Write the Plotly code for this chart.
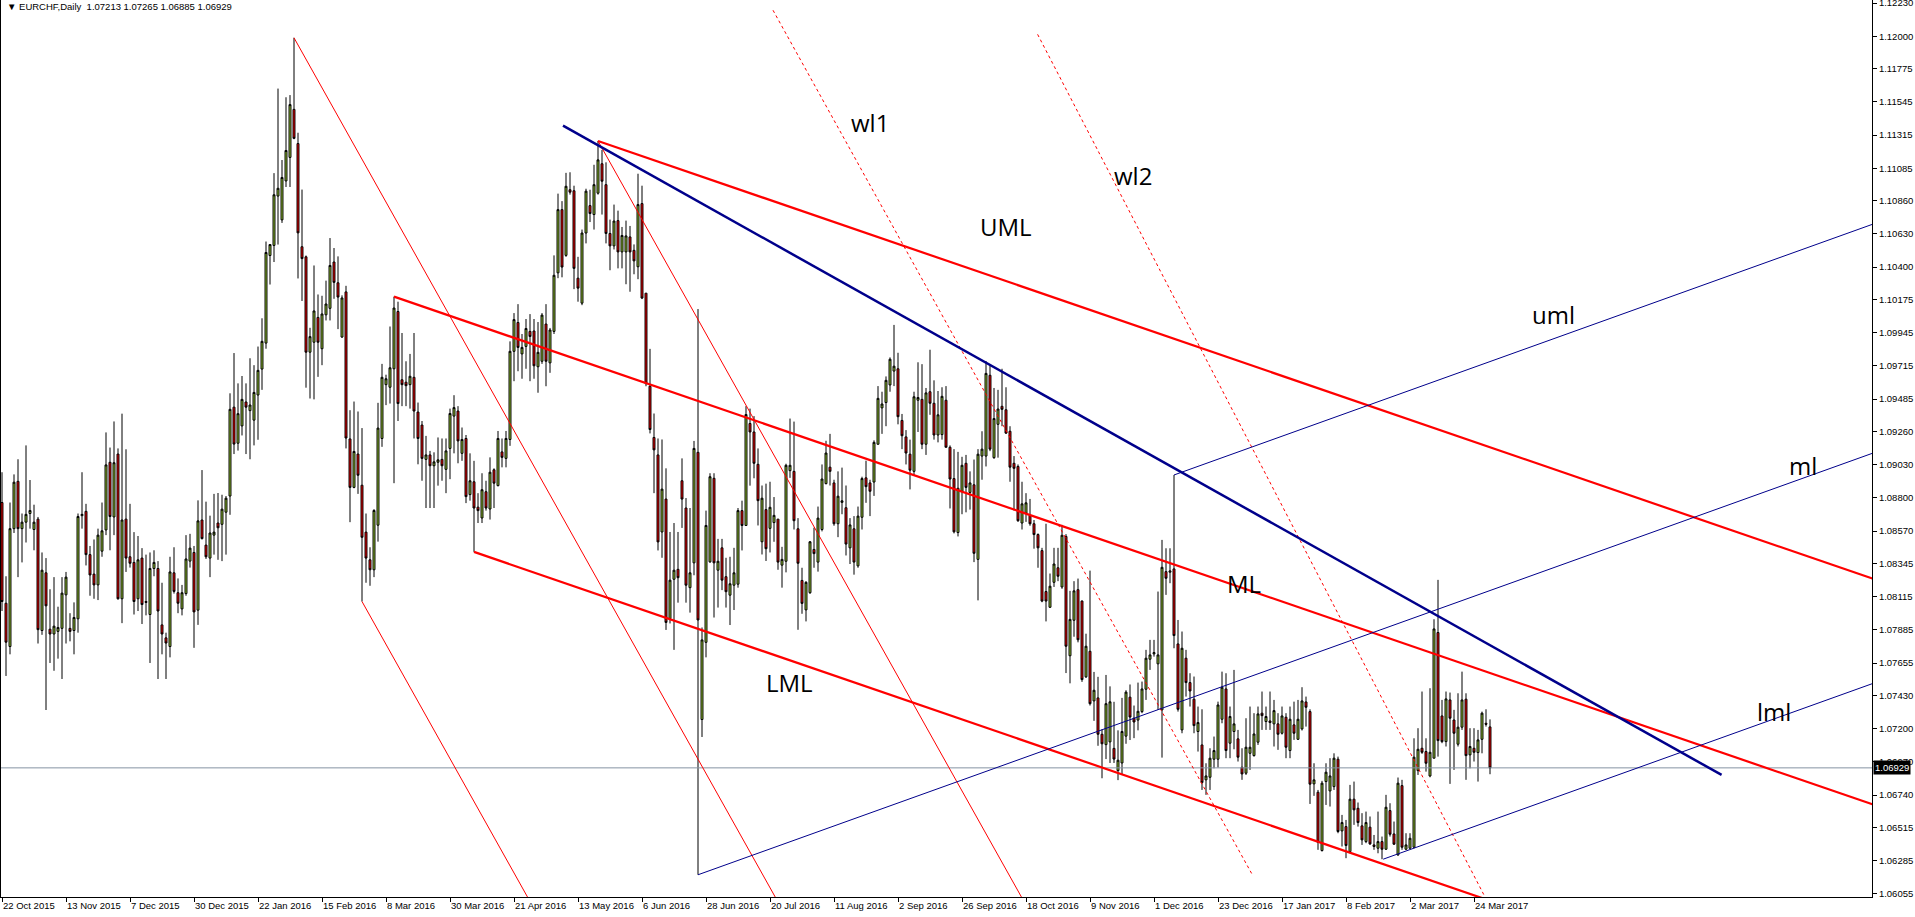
import plotly.graph_objects as go

# ---------------- data ----------------
BARS = list(range(373))

OPEN = [
1.08768,1.08070,1.07770,1.08587,1.08915,1.08587,1.08632,1.08692,1.08581,1.08653,
1.07881,1.08281,1.07890,1.07857,1.07875,1.07896,1.08128,1.07896,1.07881,1.07962,
1.08677,1.08707,1.08407,1.08272,1.08197,1.08431,1.08578,1.09047,1.08668,1.09104,
1.08101,1.08653,1.08392,1.08353,1.08101,1.08383,1.08082,1.07992,1.08311,1.08311,
1.07920,1.07830,1.07770,1.08281,1.08143,1.08031,1.08137,1.08362,1.08422,1.08022,
1.08647,1.08473,1.08383,1.08542,1.08626,1.08617,1.08701,1.08813,1.09429,1.09179,
1.09299,1.09465,1.09405,1.09339,1.09513,1.09693,1.09873,1.10480,1.10550,1.10892,
1.10727,1.10997,1.11160,1.11493,1.11256,1.10541,1.10471,1.09810,1.09879,1.10051,
1.09834,1.10069,1.10114,1.10435,1.10291,1.09915,1.10228,1.09209,1.08873,1.09104,
1.08888,1.08563,1.08371,1.08302,1.08611,1.09212,1.09585,1.09567,1.09695,1.10092,
1.09619,1.09602,1.09585,1.09636,1.09395,1.09305,1.09067,1.09098,1.09023,1.09047,
1.09067,1.08998,1.09143,1.09367,1.09402,1.09109,1.09212,1.08823,1.08912,1.08736,
1.08661,1.08843,1.08723,1.08995,1.08885,1.09119,1.09074,1.09205,1.09816,1.10016,
1.09798,1.09850,1.09954,1.09957,1.09709,1.09747,1.10005,1.09736,1.09954,1.10360,
1.10798,1.10481,1.10936,1.10929,1.10323,1.10150,1.10636,1.10826,1.10764,1.10912,
1.11116,1.10971,1.10633,1.10547,1.10722,1.10505,1.10505,1.10609,1.10516,1.10402,
1.10840,1.10219,1.09574,1.09219,1.09098,1.08564,1.08792,1.07964,1.08236,1.08305,
1.08919,1.08730,1.08178,1.08350,1.09116,1.07264,1.07799,1.08357,1.08936,1.08299,
1.08454,1.08254,1.08126,1.08195,1.08202,1.08712,1.08609,1.09316,1.09257,1.09033,
1.08496,1.08719,1.08589,1.08629,1.08653,1.08334,1.08361,1.08989,1.08984,1.08586,
1.08228,1.08024,1.08143,1.08443,1.08355,1.08581,1.08899,1.09013,1.08904,1.08621,
1.08769,1.08732,1.08454,1.08586,1.08329,1.08666,1.08939,1.08904,1.08910,1.09172,
1.09424,1.09461,1.09583,1.09679,1.09695,1.09337,1.09223,1.09103,1.08984,1.09477,
1.09483,1.09172,1.09536,1.09456,1.09236,1.09239,1.09477,1.09151,1.08934,1.08560,
1.08846,1.09040,1.08838,1.08891,1.08374,1.09090,1.09090,1.09650,1.09079,1.09310,
1.09435,1.09411,1.09262,1.09040,1.09018,1.08626,1.08695,1.08679,1.08621,1.08546,
1.08435,1.08151,1.08042,1.08215,1.08316,1.08183,1.08533,1.07706,1.07952,1.08164,
1.08085,1.07560,1.07737,1.07393,1.07414,1.07162,1.07090,1.07109,1.07064,1.06910,
1.06963,1.07149,1.07419,1.07273,1.07260,1.07319,1.07474,1.07682,1.07719,1.07650,
1.07331,1.08289,1.08285,1.08308,1.07788,1.07192,1.07689,1.07520,1.07405,1.07181,
1.07088,1.06846,1.06864,1.06989,1.06989,1.07266,1.07476,1.07100,1.07181,1.07130,
1.06933,1.06892,1.07030,1.07014,1.07107,1.07308,1.07250,1.07254,1.07234,1.07234,
1.07169,1.07280,1.07049,1.07227,1.07127,1.07199,1.07386,1.07319,1.06818,1.06760,
1.06356,1.06834,1.06769,1.06799,1.06989,1.06492,1.06522,1.06349,1.06712,1.06649,
1.06527,1.06418,1.06518,1.06395,1.06372,1.06418,1.06365,1.06633,1.06471,1.06326,
1.06806,1.06365,1.06372,1.06379,1.06910,1.07065,1.07042,1.06873,1.06996,1.07867,
1.07289,1.07111,1.07400,1.07261,1.07093,1.07211,1.07405,1.07019,1.07065,1.07035,
1.07127,1.07238,1.07213]

HIGH = [
1.08978,1.08257,1.08768,1.08963,1.09068,1.08692,1.09164,1.08924,1.08753,1.08668,
1.08422,1.08383,1.08167,1.08251,1.08046,1.08251,1.08287,1.08001,1.08076,1.08692,
1.08978,1.08759,1.08467,1.08512,1.08587,1.08768,1.09254,1.09149,1.09330,1.09143,
1.09384,1.09137,1.08759,1.08563,1.08536,1.08452,1.08407,1.08422,1.08437,1.08362,
1.08212,1.07866,1.08392,1.08458,1.08242,1.08197,1.08542,1.08551,1.08467,1.08783,
1.08993,1.08774,1.08677,1.08828,1.08834,1.08822,1.08813,1.09525,1.09804,1.09594,
1.09645,1.09594,1.09768,1.09720,1.09849,1.10045,1.10577,1.10556,1.11051,1.11637,
1.11142,1.11577,1.11592,1.11989,1.11331,1.10937,1.10480,1.09979,1.10411,1.10210,
1.10201,1.10306,1.10601,1.10532,1.10474,1.10204,1.10270,1.09408,1.09468,1.09399,
1.09284,1.08692,1.08458,1.08722,1.09459,1.09729,1.09654,1.09988,1.10195,1.10160,
1.09943,1.09747,1.09798,1.09943,1.09461,1.09333,1.09230,1.09126,1.09116,1.09219,
1.09212,1.09212,1.09419,1.09512,1.09436,1.09288,1.09236,1.09109,1.09057,1.08833,
1.08971,1.08919,1.09081,1.09005,1.09264,1.09212,1.09264,1.09885,1.10081,1.10143,
1.09936,1.10040,1.10074,1.10040,1.10019,1.10081,1.10143,1.09978,1.10481,1.10909,
1.10857,1.11053,1.11057,1.10964,1.10471,1.10660,1.10943,1.10936,1.11109,1.11274,
1.11212,1.11126,1.10729,1.10833,1.10791,1.10678,1.10722,1.10685,1.10557,1.11047,
1.10964,1.10219,1.09833,1.09385,1.09212,1.09205,1.09005,1.08564,1.08626,1.08564,
1.09074,1.08799,1.08730,1.09195,1.10109,1.07902,1.08712,1.08971,1.08971,1.08516,
1.08516,1.08385,1.08392,1.08454,1.08730,1.08781,1.09436,1.09419,1.09367,1.09143,
1.08886,1.08899,1.08912,1.08806,1.08653,1.08461,1.09037,1.09350,1.09329,1.08660,
1.08316,1.08223,1.08501,1.08594,1.08740,1.09032,1.09196,1.09244,1.08926,1.08984,
1.09010,1.08886,1.08660,1.08674,1.08740,1.08947,1.09058,1.08926,1.09199,1.09575,
1.09536,1.09642,1.09774,1.09999,1.09806,1.09382,1.09270,1.09204,1.09536,1.09740,
1.09727,1.09562,1.09827,1.09615,1.09541,1.09567,1.09575,1.09164,1.09138,1.09119,
1.09085,1.09098,1.08984,1.09066,1.09138,1.09262,1.09748,1.09721,1.09562,1.09549,
1.09695,1.09567,1.09297,1.09090,1.09032,1.08912,1.08833,1.08793,1.08647,1.08554,
1.08454,1.08621,1.08276,1.08454,1.08454,1.08613,1.08549,1.08156,1.08223,1.08241,
1.08090,1.07859,1.08296,1.07594,1.07560,1.07196,1.07573,1.07494,1.07387,1.07189,
1.07414,1.07467,1.07507,1.07361,1.07520,1.07527,1.07747,1.07816,1.07816,1.08151,
1.08509,1.08451,1.08451,1.08959,1.07954,1.07874,1.07747,1.07585,1.07562,1.07354,
1.07335,1.06961,1.07065,1.07146,1.07388,1.07596,1.07585,1.07354,1.07608,1.07192,
1.07065,1.07273,1.07354,1.07308,1.07354,1.07458,1.07354,1.07458,1.07400,1.07308,
1.07354,1.07308,1.07354,1.07388,1.07400,1.07488,1.07423,1.07335,1.06961,1.06776,
1.06839,1.06961,1.06996,1.07030,1.07007,1.06603,1.06568,1.06811,1.06834,1.06689,
1.06615,1.06626,1.06592,1.06464,1.06626,1.06453,1.06742,1.06684,1.06557,1.06862,
1.06846,1.06476,1.06476,1.07134,1.07204,1.07458,1.07134,1.07481,1.07959,1.08232,
1.07400,1.07458,1.07451,1.07331,1.07446,1.07596,1.07446,1.07204,1.07204,1.07192,
1.07319,1.07335,1.07265]

LOW = [
1.08016,1.07566,1.07716,1.08557,1.08251,1.08353,1.08491,1.08587,1.08437,1.07791,
1.07851,1.07330,1.07656,1.07602,1.07686,1.07545,1.07791,1.07806,1.07716,1.07866,
1.08587,1.08332,1.08122,1.08101,1.08092,1.08392,1.08542,1.08437,1.08542,1.08095,
1.07932,1.08287,1.08317,1.07992,1.08016,1.07926,1.07986,1.07656,1.08257,1.07545,
1.07716,1.07545,1.07695,1.08137,1.08001,1.07986,1.08122,1.08317,1.07761,1.07920,
1.08512,1.08377,1.08251,1.08407,1.08371,1.08362,1.08407,1.08683,1.09104,1.09128,
1.09233,1.09104,1.09068,1.09164,1.09203,1.09549,1.09834,1.10279,1.10435,1.10556,
1.10706,1.10955,1.10955,1.11286,1.10321,1.10165,1.09564,1.09489,1.09483,1.09639,
1.09720,1.10030,1.10030,1.10180,1.09970,1.09909,1.09143,1.08632,1.08867,1.08828,
1.08082,1.08212,1.08191,1.08251,1.08497,1.09154,1.09443,1.09454,1.08902,1.09333,
1.09436,1.09436,1.09419,1.09212,1.09033,1.08919,1.08730,1.08730,1.08730,1.08885,
1.08919,1.08833,1.08930,1.09109,1.09040,1.09057,1.08764,1.08781,1.08426,1.08626,
1.08626,1.08712,1.08650,1.08730,1.08880,1.09012,1.09012,1.09161,1.09609,1.09678,
1.09626,1.09695,1.09609,1.09626,1.09529,1.09729,1.09574,1.09667,1.09936,1.10323,
1.10329,1.10471,1.10902,1.10247,1.10160,1.10136,1.10564,1.10712,1.10660,1.10902,
1.10764,1.10564,1.10378,1.10522,1.10391,1.10391,1.10281,1.10229,1.10350,1.10316,
1.10178,1.09574,1.09247,1.08833,1.08436,1.08385,1.07885,1.07930,1.07747,1.08074,
1.08592,1.08074,1.08005,1.08264,1.06188,1.07143,1.07695,1.08350,1.07971,1.08040,
1.08161,1.08040,1.07919,1.08023,1.08178,1.08436,1.08609,1.08885,1.08936,1.08609,
1.08408,1.08363,1.08422,1.08496,1.08302,1.08178,1.08284,1.08939,1.08581,1.07886,
1.07997,1.07944,1.08135,1.08316,1.08289,1.08568,1.08894,1.08886,1.08607,1.08528,
1.08687,1.08401,1.08342,1.08268,1.08316,1.08581,1.08766,1.08674,1.08814,1.09170,
1.09244,1.09297,1.09536,1.09575,1.09310,1.09138,1.09032,1.08859,1.08952,1.09257,
1.09138,1.09098,1.09376,1.09204,1.09185,1.09204,1.09151,1.08727,1.08554,1.08533,
1.08687,1.08700,1.08719,1.08355,1.08090,1.08926,1.09018,1.09124,1.09071,1.09079,
1.09297,1.09244,1.08912,1.08713,1.08634,1.08581,1.08634,1.08607,1.08448,1.08316,
1.08077,1.07944,1.08037,1.08183,1.08223,1.08170,1.07586,1.07515,1.07838,1.07799,
1.07525,1.07552,1.07361,1.07255,1.07082,1.06857,1.06990,1.06963,1.06963,1.06844,
1.06884,1.07096,1.07122,1.07135,1.07189,1.07308,1.07400,1.07608,1.07700,1.07331,
1.07000,1.08128,1.08209,1.07758,1.07319,1.07169,1.07423,1.07354,1.07169,1.07042,
1.06776,1.06742,1.06776,1.06926,1.06931,1.07238,1.06996,1.06996,1.07058,1.06973,
1.06846,1.06880,1.06915,1.07007,1.07088,1.07192,1.07192,1.07192,1.07077,1.07054,
1.07160,1.06996,1.06996,1.07123,1.07123,1.07188,1.07215,1.06679,1.06735,1.06361,
1.06349,1.06672,1.06661,1.06776,1.06476,1.06384,1.06303,1.06337,1.06534,1.06522,
1.06395,1.06407,1.06395,1.06361,1.06337,1.06296,1.06361,1.06453,1.06395,1.06319,
1.06361,1.06361,1.06365,1.06372,1.06880,1.07026,1.06903,1.06864,1.06996,1.07007,
1.07100,1.07077,1.06818,1.06915,1.07077,1.07192,1.06846,1.06926,1.06973,1.06834,
1.07030,1.07215,1.06885]

CLOSE = [
1.08082,1.07800,1.08587,1.08909,1.08587,1.08632,1.08686,1.08713,1.08632,1.07887,
1.08299,1.08052,1.07857,1.07911,1.07902,1.08140,1.08251,1.07875,1.07971,1.08671,
1.08686,1.08407,1.08266,1.08197,1.08542,1.08572,1.09029,1.08671,1.09044,1.08101,
1.08647,1.08383,1.08347,1.08082,1.08371,1.08061,1.08076,1.08311,1.08353,1.08016,
1.07857,1.07794,1.08287,1.08152,1.08070,1.08143,1.08377,1.08452,1.08010,1.08641,
1.08518,1.08392,1.08557,1.08563,1.08593,1.08722,1.08798,1.09414,1.09173,1.09384,
1.09483,1.09429,1.09444,1.09531,1.09684,1.09885,1.10501,1.10556,1.10901,1.10946,
1.11021,1.11208,1.11526,1.11292,1.10637,1.10459,1.09810,1.09918,1.10096,1.09879,
1.10075,1.10144,1.10411,1.10294,1.10192,1.10186,1.09215,1.08873,1.09122,1.08957,
1.08527,1.08383,1.08302,1.08713,1.09284,1.09636,1.09626,1.09702,1.10116,1.09454,
1.09585,1.09578,1.09643,1.09402,1.09212,1.09074,1.09098,1.09023,1.09050,1.09064,
1.09023,1.09126,1.09385,1.09426,1.09195,1.09205,1.08809,1.08919,1.08730,1.08712,
1.08857,1.08730,1.08978,1.08902,1.09212,1.09081,1.09212,1.09816,1.10036,1.09843,
1.09843,1.09974,1.09919,1.09716,1.09809,1.10067,1.09747,1.09964,1.10343,1.10798,
1.10400,1.10960,1.10919,1.10391,1.10254,1.10636,1.10926,1.10771,1.10971,1.11143,
1.10995,1.10633,1.10547,1.10719,1.10505,1.10619,1.10616,1.10505,1.10443,1.10833,
1.10185,1.09592,1.09274,1.09133,1.08495,1.08861,1.07937,1.08230,1.08299,1.08247,
1.08792,1.08195,1.08281,1.09143,1.07954,1.07816,1.08609,1.08947,1.08350,1.08361,
1.08230,1.08150,1.08205,1.08281,1.08712,1.08609,1.09378,1.09257,1.09040,1.08781,
1.08798,1.08448,1.08735,1.08679,1.08355,1.08374,1.09026,1.09026,1.08642,1.08347,
1.08069,1.08215,1.08496,1.08414,1.08660,1.08931,1.09111,1.08984,1.08621,1.08812,
1.08780,1.08480,1.08613,1.08355,1.08674,1.08934,1.08878,1.08846,1.09185,1.09490,
1.09451,1.09615,1.09761,1.09713,1.09363,1.09231,1.09111,1.08992,1.09501,1.09496,
1.09172,1.09528,1.09456,1.09236,1.09376,1.09504,1.09151,1.08931,1.08565,1.08867,
1.09026,1.08873,1.08904,1.08416,1.09103,1.09138,1.09663,1.09138,1.09350,1.09416,
1.09414,1.09249,1.09013,1.09005,1.08642,1.08759,1.08766,1.08621,1.08546,1.08454,
1.08085,1.08085,1.08188,1.08342,1.08257,1.08541,1.07772,1.07958,1.08156,1.07817,
1.07541,1.07772,1.07374,1.07467,1.07162,1.07096,1.07374,1.07387,1.06990,1.06982,
1.07181,1.07454,1.07281,1.07247,1.07321,1.07476,1.07689,1.07712,1.07728,1.07712,
1.08319,1.08243,1.08294,1.07846,1.07335,1.07758,1.07520,1.07462,1.07222,1.07243,
1.06827,1.06873,1.06996,1.07049,1.07365,1.07488,1.07049,1.07285,1.07234,1.07003,
1.06887,1.07072,1.07072,1.07164,1.07303,1.07291,1.07285,1.07243,1.07326,1.07162,
1.07289,1.07072,1.07266,1.07169,1.07266,1.07393,1.07349,1.06816,1.06846,1.06413,
1.06823,1.06899,1.06873,1.06996,1.06488,1.06550,1.06391,1.06712,1.06638,1.06550,
1.06430,1.06550,1.06402,1.06384,1.06418,1.06365,1.06656,1.06469,1.06400,1.06823,
1.06379,1.06395,1.06441,1.07003,1.07058,1.07037,1.06961,1.07037,1.07892,1.07118,
1.07111,1.07407,1.07273,1.07169,1.07211,1.07400,1.07014,1.07077,1.07037,1.07123,
1.07308,1.07231,1.06929]

DATE_TICK_BARS = [0, 16, 32, 48, 64, 80, 96, 112, 128, 144, 160, 176,
                  192, 208, 224, 240, 256, 272, 288, 304, 320, 336, 352, 368]
DATE_LABELS = ["22 Oct 2015", "13 Nov 2015", "7 Dec 2015", "30 Dec 2015",
               "22 Jan 2016", "15 Feb 2016", "8 Mar 2016", "30 Mar 2016",
               "21 Apr 2016", "13 May 2016", "6 Jun 2016", "28 Jun 2016",
               "20 Jul 2016", "11 Aug 2016", "2 Sep 2016", "26 Sep 2016",
               "18 Oct 2016", "9 Nov 2016", "1 Dec 2016", "23 Dec 2016",
               "17 Jan 2017", "8 Feb 2017", "2 Mar 2017", "24 Mar 2017"]
PRICE_TICKS = [1.12230, 1.12000, 1.11775, 1.11545, 1.11315, 1.11085, 1.10860,
               1.10630, 1.10400, 1.10175, 1.09945, 1.09715, 1.09485, 1.09260,
               1.09030, 1.08800, 1.08570, 1.08345, 1.08115, 1.07885, 1.07655,
               1.07430, 1.07200, 1.06970, 1.06740, 1.06515, 1.06285, 1.06055]

CURRENT_PRICE = 1.06929
HEADER = "\u25BC EURCHF,Daily  1.07213 1.07265 1.06885 1.06929"

# drawn objects: anchors (bar index, price)
RED_FORK_P1 = (98, 1.10195)
RED_FORK_P2 = (149, 1.11274)
RED_FORK_P3 = (118, 1.08426)
RED_FORK_SLOPE = -9.52e-5          # price per bar
BLUE_FORK_P1 = (174, 1.06188)
BLUE_FORK_P2 = (293, 1.08959)
BLUE_FORK_P3 = (345.3, 1.06296)
BLUE_FORK_SLOPE = 9.95e-5
REACTION_STARTS = [(73, 1.11989), (90, 1.08082), (149, 1.11274)]
REACTION_SLOPE = -4.95e-4
WL1 = [(192.75, 1.12180), (312.75, 1.06180)]
WL2 = [(258.9, 1.12013), (370.7, 1.06037)]
BLUE_TREND = [(140.25, 1.11380), (429.9, 1.06880)]

LABELS = [("wl1", 217, 1.11405), ("wl2", 282.75, 1.11038), ("UML", 251, 1.10682),
          ("uml", 387.8, 1.10068), ("ml", 450.3, 1.09028), ("lml", 443, 1.07319),
          ("ML", 310.5, 1.08204), ("LML", 196.9, 1.07520)]

X_RANGE = [-0.25, 467.5]
Y_RANGE = [1.06034, 1.12251]
RAY_END = 490

# ---------------- figure ----------------
fig = go.Figure()

fig.add_trace(go.Candlestick(
    x=BARS, open=OPEN, high=HIGH, low=LOW, close=CLOSE,
    increasing=dict(fillcolor="#9ACD32", line=dict(color="black", width=1)),
    decreasing=dict(fillcolor="#FF0000", line=dict(color="black", width=1)),
    whiskerwidth=0, hoverinfo="skip", showlegend=False))


def ray(p, slope, x_end):
    return [p[0], x_end], [p[1], p[1] + slope * (x_end - p[0])]


def add_line(xs, ys, color, width, dash="solid"):
    fig.add_trace(go.Scatter(x=xs, y=ys, mode="lines",
                             line=dict(color=color, width=width, dash=dash),
                             hoverinfo="skip", showlegend=False))


# current price line
add_line(X_RANGE, [CURRENT_PRICE, CURRENT_PRICE], "#8593A3", 1)

# reaction lines (thin red)
for p in REACTION_STARTS:
    xs, ys = ray(p, REACTION_SLOPE, p[0] + 150)
    add_line(xs, ys, "#FF0000", 1)

# warning lines (dotted red)
for seg in (WL1, WL2):
    add_line([seg[0][0], seg[1][0]], [seg[0][1], seg[1][1]], "#FF0000", 1, "dot")

# red pitchfork
for p in (RED_FORK_P1, RED_FORK_P2, RED_FORK_P3):
    xs, ys = ray(p, RED_FORK_SLOPE, RAY_END)
    add_line(xs, ys, "#FF0000", 2.2)

# blue pitchfork
for p in (BLUE_FORK_P1, BLUE_FORK_P2, BLUE_FORK_P3):
    xs, ys = ray(p, BLUE_FORK_SLOPE, RAY_END)
    add_line(xs, ys, "#00008B", 1)

# blue trend line
add_line([BLUE_TREND[0][0], BLUE_TREND[1][0]], [BLUE_TREND[0][1], BLUE_TREND[1][1]],
         "#00008B", 2.5)

annotations = []
for text, bx, py in LABELS:
    annotations.append(dict(x=bx, y=py, xref="x", yref="y", text=text, showarrow=False,
                            xanchor="center", yanchor="middle",
                            font=dict(family="Open Sans", size=24, color="black")))
annotations.append(dict(x=0, y=1, xref="paper", yref="paper", text=HEADER,
                        showarrow=False, xanchor="left", yanchor="top",
                        xshift=4, yshift=1,
                        font=dict(family="Liberation Sans", size=9.5, color="black")))
annotations.append(dict(x=1, y=CURRENT_PRICE, xref="paper", yref="y",
                        text="{:.5f}".format(CURRENT_PRICE), showarrow=False,
                        xanchor="left", yanchor="middle", xshift=1,
                        bgcolor="black", borderpad=1,
                        font=dict(family="Liberation Sans", size=9.5, color="white")))

fig.update_layout(
    width=1915, height=917,
    margin=dict(l=1, r=43, t=0, b=20, autoexpand=False),
    paper_bgcolor="white", plot_bgcolor="white",
    font=dict(family="Liberation Sans", size=9.5, color="black"),
    showlegend=False,
    annotations=annotations,
    xaxis=dict(range=X_RANGE, tickmode="array", tickvals=DATE_TICK_BARS,
               ticktext=DATE_LABELS, ticks="outside", ticklen=4, tickcolor="black",
               showline=True, linecolor="black", linewidth=1, showgrid=False,
               zeroline=False, rangeslider=dict(visible=False),
               ticklabelposition="outside right", ticklabeloverflow="allow",
               fixedrange=True),
    yaxis=dict(range=Y_RANGE, side="right", tickmode="array", tickvals=PRICE_TICKS,
               ticktext=["{:.5f}".format(v) for v in PRICE_TICKS],
               ticks="outside", ticklen=4, tickcolor="black",
               showline=True, mirror=True, linecolor="black", linewidth=1,
               showgrid=False, zeroline=False, ticklabeloverflow="allow",
               fixedrange=True),
)

fig.write_html("out.html",
               config={"displayModeBar": False, "staticPlot": True},
               post_script="document.body.style.margin='0px';"
                           "document.body.style.overflow='hidden';")
